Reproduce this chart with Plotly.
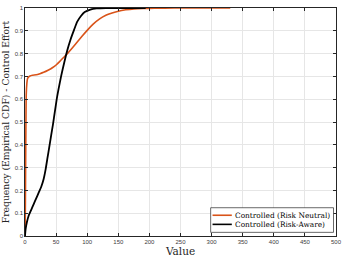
import plotly.graph_objects as go

# Risk Neutral (orange) empirical CDF estimates
rn_x = [0, 0.5, 1, 1.5, 2, 3, 4, 6, 8, 12, 18, 24, 30, 37, 44, 50, 56, 62, 68, 76, 84, 92, 100, 110, 120, 130, 140, 150, 162, 175, 190, 208, 240, 280, 330]
rn_y = [0, 0.10, 0.30, 0.50, 0.62, 0.67, 0.69, 0.698, 0.702, 0.705, 0.707, 0.712, 0.718, 0.727, 0.738, 0.750, 0.766, 0.783, 0.800, 0.825, 0.851, 0.877, 0.902, 0.930, 0.952, 0.968, 0.978, 0.986, 0.992, 0.996, 0.998, 0.999, 1.0, 1.0, 1.0]

# Risk Aware (black) empirical CDF estimates
ra_x = [0, 1, 3, 6, 10, 14, 18, 22, 26, 30, 33, 36, 39, 42, 45, 48, 51, 54, 58, 63, 68, 73, 79, 84, 90, 96, 105, 115, 130, 150, 170, 194]
ra_y = [0, 0.03, 0.06, 0.09, 0.115, 0.14, 0.165, 0.19, 0.215, 0.25, 0.29, 0.34, 0.39, 0.44, 0.49, 0.545, 0.60, 0.645, 0.70, 0.76, 0.815, 0.86, 0.905, 0.94, 0.965, 0.982, 0.993, 0.998, 1.0, 1.0, 1.0, 1.0]

series_names = ["Controlled (Risk Neutral)", "Controlled (Risk-Aware)"]
series_colors = ["#D95319", "#000000"]

x_ticks = [0, 50, 100, 150, 200, 250, 300, 350, 400, 450, 500]
y_ticks = [0, 0.1, 0.2, 0.3, 0.4, 0.5, 0.6, 0.7, 0.8, 0.9, 1]
y_tick_text = ["0", "0.1", "0.2", "0.3", "0.4", "0.5", "0.6", "0.7", "0.8", "0.9", "1"]

serif = "DejaVu Serif, Liberation Serif, serif"
sans = "Liberation Sans, Arial, sans-serif"

fig = go.Figure()
fig.add_trace(go.Scatter(x=rn_x, y=rn_y, mode="lines", name=series_names[0], showlegend=False,
                         line=dict(color=series_colors[0], width=1.6, shape="spline", smoothing=0.6)))
fig.add_trace(go.Scatter(x=ra_x, y=ra_y, mode="lines", name=series_names[1], showlegend=False,
                         line=dict(color=series_colors[1], width=1.8, shape="spline", smoothing=0.6)))

axis_common = dict(showgrid=True, gridcolor="#e6e6e6", gridwidth=0.6, zeroline=False,
                   showline=True, linecolor="#262626", linewidth=0.6, mirror="ticks",
                   ticks="inside", ticklen=3, tickcolor="#262626",
                   tickfont=dict(family=sans, size=6, color="#404040"))

# Compact MATLAB-style legend drawn in paper coordinates
box = dict(x0=0.597, x1=0.992, y0=0.016, y1=0.124)
rows_y = [0.091, 0.051]
shapes = [dict(type="rect", xref="paper", yref="paper", **box,
               line=dict(color="#262626", width=0.7), fillcolor="white", layer="above")]
annotations = []
for name, color, ry in zip(series_names, series_colors, rows_y):
    shapes.append(dict(type="line", xref="paper", yref="paper", x0=0.603, x1=0.665, y0=ry, y1=ry,
                       line=dict(color=color, width=1.6), layer="above"))
    annotations.append(dict(text=name, xref="paper", yref="paper", x=0.668, y=ry,
                            xanchor="left", yanchor="middle", showarrow=False,
                            font=dict(family=serif, size=7.4, color="#000000")))

fig.update_layout(
    width=347, height=260,
    margin=dict(l=24, r=6, t=5, b=24),
    paper_bgcolor="white", plot_bgcolor="white",
    xaxis=dict(range=[0, 500], tickvals=x_ticks, ticktext=[str(t) for t in x_ticks],
               title=dict(text="Value", font=dict(family=serif, size=10.5, color="#262626"), standoff=1),
               **axis_common),
    yaxis=dict(range=[0, 1], tickvals=y_ticks, ticktext=y_tick_text,
               title=dict(text="Frequency (Empirical CDF) - Control Effort",
                          font=dict(family=serif, size=9.2, color="#262626"), standoff=3),
               **axis_common),
    shapes=shapes,
    annotations=annotations,
    showlegend=False,
)

fig.write_html("out.html", config={"displayModeBar": False},
               post_script="document.body.style.margin='0';document.body.style.overflow='hidden';")
